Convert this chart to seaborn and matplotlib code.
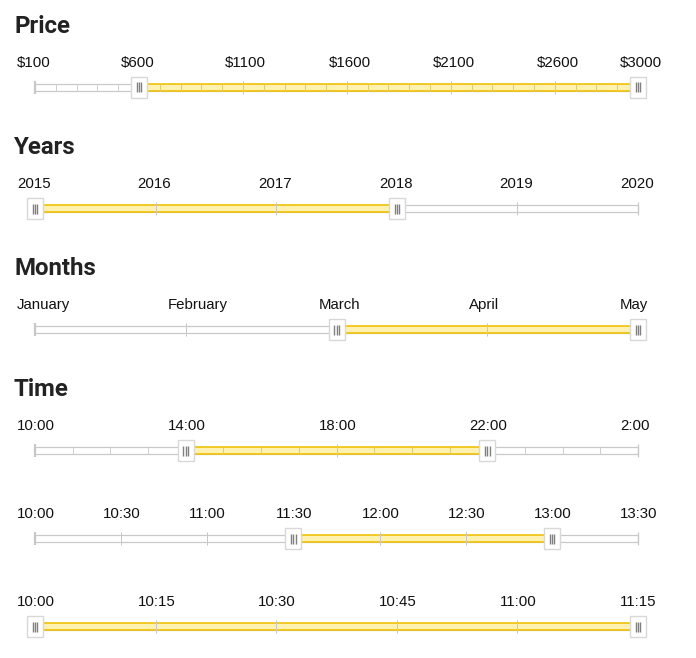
import matplotlib
matplotlib.use("Agg")
import numpy as np
import pandas as pd
import matplotlib.pyplot as plt
import matplotlib.transforms as mtransforms
from matplotlib.patches import Rectangle
import seaborn as sns

sns.set_theme(style="white")
plt.rcParams['font.family'] = ['Liberation Sans', 'DejaVu Sans']

# ---------------- data ----------------
price_labels = ["$100", "$600", "$1100", "$1600", "$2100", "$2600", "$3000"]
price_ticks = [100, 600, 1100, 1600, 2100, 2600, 3000]
price_minor_step = 100
price_selected = [600, 3000]

year_labels = ["2015", "2016", "2017", "2018", "2019", "2020"]
year_ticks = [2015, 2016, 2017, 2018, 2019, 2020]
year_selected = [2015, 2018]

month_labels = ["January", "February", "March", "April", "May"]
month_ticks = [0, 1, 2, 3, 4]
month_selected = [2, 4]

# minutes after 10:00
time1_labels = ["10:00", "14:00", "18:00", "22:00", "2:00"]
time1_ticks = [0, 240, 480, 720, 960]
time1_minor_step = 60
time1_selected = [240, 720]

time2_labels = ["10:00", "10:30", "11:00", "11:30", "12:00", "12:30", "13:00", "13:30"]
time2_ticks = [0, 30, 60, 90, 120, 150, 180, 210]
time2_selected = [90, 180]

time3_labels = ["10:00", "10:15", "10:30", "10:45", "11:00", "11:15"]
time3_ticks = [0, 15, 30, 45, 60, 75]
time3_selected = [0, 75]

titles = ["Price", "Years", "Months", "Time"]

# ---------------- figure ----------------
W, H, DPI = 696, 658, 100
fig = plt.figure(figsize=(W / DPI, H / DPI), dpi=DPI)
fig.patch.set_facecolor("white")
PT = 72.0 / DPI  # points per pixel

GRAY = "#c8c8c8"
GRAY_MINOR = "#d0d0d0"
YEL_FILL = "#fff1b0"
YEL_EDGE = "#efc000"
YEL_MINOR = "#e3cb66"


def slider(track_y, ticks, labels, sel, minor_step=None):
    x0, x1 = 35, 638
    ax = fig.add_axes([x0 / W, (H - track_y - 15) / H, (x1 - x0) / W, 30 / H])
    lo, hi = ticks[0], ticks[-1]
    ax.set_xlim(lo, hi)
    ax.set_ylim(-15, 15)
    ax.axis("off")
    dpp = (hi - lo) / (x1 - x0)  # data units per pixel

    # base track
    ax.add_patch(Rectangle((lo, -3.5), hi - lo, 7, fc="white", ec=GRAY,
                           lw=1.2 * PT, clip_on=False, zorder=1))
    # selected range
    ax.add_patch(Rectangle((sel[0], -3.5), sel[1] - sel[0], 7, fc=YEL_FILL,
                           ec=YEL_EDGE, lw=1.6 * PT, clip_on=False, zorder=2))
    # minor ticks
    if minor_step:
        minors = [m for m in np.arange(lo, hi + 1e-9, minor_step) if m not in ticks]
        for m in minors:
            inside = sel[0] < m < sel[1]
            ax.vlines(m, -3.5, 3.5, color=YEL_MINOR if inside else GRAY_MINOR,
                      lw=1 * PT, zorder=3, clip_on=False)
    # major ticks
    ax.vlines(ticks[1:-1], -6.5, 6.5, color=GRAY, lw=1 * PT, zorder=3, clip_on=False)
    ax.vlines([lo], -6.5, 6.5, color=GRAY, lw=2.2 * PT, zorder=3, clip_on=False)
    ax.vlines([hi], -6.5, 6.5, color=GRAY, lw=1.2 * PT, zorder=3, clip_on=False)

    # labels
    tr = mtransforms.offset_copy(ax.transData, fig=fig, x=-18, y=0, units="dots")
    for t, lab in zip(ticks, labels):
        ax.text(t, 20, lab, transform=tr, ha="left", va="baseline",
                fontsize=10.8, color="#111111")

    # handles
    for v in sel:
        ax.add_patch(Rectangle((v - 8 * dpp, -10.5), 16 * dpp, 21, fc="white",
                               ec="#d8d8d8", lw=1.4 * PT, clip_on=False, zorder=5))
        ax.vlines([v - 2.3 * dpp, v, v + 2.3 * dpp], -5, 5, color="#808080",
                  lw=1.4 * PT, zorder=6, clip_on=False)
    return ax


slider(87, price_ticks, price_labels, price_selected, price_minor_step)
slider(208.5, year_ticks, year_labels, year_selected)
slider(329.5, month_ticks, month_labels, month_selected)
slider(450.5, time1_ticks, time1_labels, time1_selected, time1_minor_step)
slider(538.5, time2_ticks, time2_labels, time2_selected)
slider(626.5, time3_ticks, time3_labels, time3_selected)

for title, base in zip(titles, [33, 154, 275, 396]):
    fig.text(14 / W, 1 - base / H, title, fontsize=17.3, fontweight="bold",
             family=["Roboto", "DejaVu Sans"], color="#222222", va="baseline", ha="left")

fig.savefig("out.png", dpi=DPI, facecolor="white")
